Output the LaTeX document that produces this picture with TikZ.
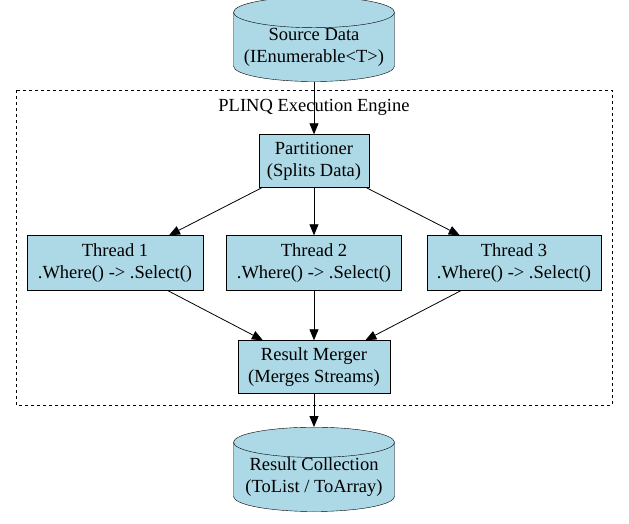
\documentclass[tikz,border=0pt]{standalone}
\usepackage{fontspec}
\setmainfont{Liberation Serif}
\usetikzlibrary{shapes.geometric,arrows.meta}
\definecolor{lb}{RGB}{173,216,230}
\begin{document}
\begin{tikzpicture}[x=1pt,y=-1pt,
  box/.style={draw,fill=lb,align=center,font=\fontsize{18.5}{22}\selectfont,inner sep=0pt},
  cyl/.style={draw,fill=lb,cylinder,shape border rotate=90,aspect=0.22,align=center,font=\fontsize{18.5}{22}\selectfont,minimum width=161pt,minimum height=80pt,inner sep=0pt},
  arr/.style={-{Triangle[length=11pt,width=9pt]},thick}]
\useasboundingbox (0,0) rectangle (629,523);
\draw[dashed,thick] (16,90) rectangle (612,405);
\node[font=\fontsize{18.5}{22}\selectfont] (lbl) at (314,107) {PLINQ Execution Engine};
\node[cyl] (src) at (314,47) {Source Data\\(IEnumerable<T>)};
\node[box,minimum width=110pt,minimum height=53pt] (part) at (314,161) {Partitioner\\(Splits Data)};
\node[box,minimum width=176pt,minimum height=55pt] (t1) at (115,263) {Thread 1\\.Where() -> .Select()};
\node[box,minimum width=175pt,minimum height=55pt] (t2) at (314,263) {Thread 2\\.Where() -> .Select()};
\node[box,minimum width=174pt,minimum height=55pt] (t3) at (514,263) {Thread 3\\.Where() -> .Select()};
\node[box,minimum width=152pt,minimum height=53pt] (mer) at (314,367) {Result Merger\\(Merges Streams)};
\node[cyl,minimum height=78pt] (res) at (314,477) {Result Collection\\(ToList / ToArray)};
\draw[arr] (src) -- (part);
\draw[arr] (part) -- (t1);
\draw[arr] (part) -- (t2);
\draw[arr] (part) -- (t3);
\draw[arr] (t1) -- (mer);
\draw[arr] (t2) -- (mer);
\draw[arr] (t3) -- (mer);
\draw[arr] (mer) -- (res);
\end{tikzpicture}
\end{document}
